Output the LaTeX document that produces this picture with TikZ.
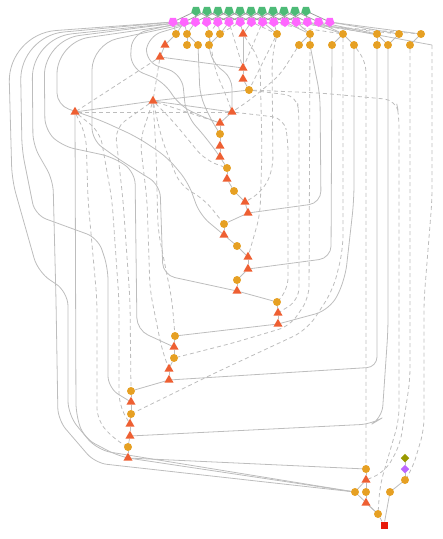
\documentclass[tikz,border=0pt]{standalone}
\usetikzlibrary{shapes.geometric,backgrounds}
\definecolor{cE6A023}{RGB}{230,160,35}
\definecolor{cEE5F32}{RGB}{238,95,50}
\definecolor{c4DBB77}{RGB}{77,187,119}
\definecolor{cFF66FF}{RGB}{255,102,255}
\definecolor{c999900}{RGB}{153,153,0}
\definecolor{cBB66FF}{RGB}{187,102,255}
\definecolor{cE81A0A}{RGB}{232,26,10}
\definecolor{cBDBDBD}{RGB}{189,189,189}
\definecolor{c9E9E9E}{RGB}{158,158,158}
\tikzset{
  op/.style={circle,fill=cE6A023,minimum size=8pt},
  tri/.style={regular polygon,regular polygon sides=3,fill=cEE5F32,minimum size=10.5pt},
  inp/.style={regular polygon,regular polygon sides=5,shape border rotate=180,fill=c4DBB77,minimum size=10pt},
  arg/.style={regular polygon,regular polygon sides=5,shape border rotate=180,fill=cFF66FF,minimum size=10pt},
  res/.style={rectangle,fill=cE81A0A,minimum size=7pt},
  cst/.style={diamond,minimum size=8.5pt},
  ed/.style={draw=cBDBDBD,line width=0.8pt},
  dd/.style={ed,dash pattern=on 4pt off 3pt},
  gd/.style={draw=c9E9E9E,line width=0.8pt},
}
\begin{document}
\begin{tikzpicture}[y=1pt,x=1pt,yscale=-1, inner sep=0pt, outer sep=0pt]
  \useasboundingbox (0,0) rectangle (443,539);
  % inputs and arguments
  \foreach \i in {0,...,10}
    \node[inp] (g\i) at ({196+11*\i},11) {};
  \foreach \i in {0,...,14}
    \node[arg] (p\i) at ({173+11.2*\i},22) {};
  % first rows
  \node[op] (a1) at (176,34) {};
  \node[op] (a2) at (187,34) {};
  \node[op] (a3) at (209,34) {};
  \node[op] (a4) at (220,34) {};
  \node[tri] (t1) at (243,34) {};
  \node[op] (a5) at (277,34) {};
  \node[op] (a6) at (310,34) {};
  \node[op] (a7) at (343,34) {};
  \node[op] (a8) at (377,34) {};
  \node[op] (a9) at (399,34) {};
  \node[op] (a10) at (421,34) {};
  \node[tri] (tL) at (165,45) {};
  \node[op] (b1) at (187,45) {};
  \node[op] (b2) at (198,45) {};
  \node[op] (b3) at (209,45) {};
  \node[op] (b4) at (299,45) {};
  \node[op] (b5) at (310,45) {};
  \node[op] (b6) at (332,45) {};
  \node[op] (b7) at (354,45) {};
  \node[op] (b8) at (377,45) {};
  \node[op] (b9) at (388,45) {};
  \node[op] (b10) at (410,45) {};
  \coordinate (r1) at (432,45);
  \node[tri] (tM) at (160,57) {};
  % chain
  \node[tri] (c1) at (243,68) {};
  \node[tri] (c2) at (243,79) {};
  \node[op] (c3) at (249,90) {};
  \node[tri] (m1) at (153,101) {};
  \node[tri] (m0) at (75,112) {};
  \node[tri] (c4) at (232,112) {};
  \node[tri] (c5) at (220,123) {};
  \node[op] (c6) at (220,134) {};
  \node[tri] (c7) at (220,146) {};
  \node[tri] (c8) at (220,157) {};
  \node[op] (c9) at (227,168) {};
  \node[tri] (c10) at (227,179) {};
  \node[op] (c11) at (234,191) {};
  \node[tri] (c12) at (245,202) {};
  \node[tri] (c13) at (248,213) {};
  \node[op] (c14) at (224,224) {};
  \node[tri] (c15) at (224,235) {};
  \node[op] (c16) at (237,246) {};
  \node[tri] (c17) at (248,257) {};
  \node[tri] (c18) at (248,269) {};
  \node[op] (c19) at (237,280) {};
  \node[tri] (c20) at (237,291) {};
  \node[op] (c21) at (277,302) {};
  \node[tri] (c22) at (278,313) {};
  \node[tri] (c23) at (278,324) {};
  \node[op] (d1) at (175,336) {};
  \node[tri] (d2) at (174,347) {};
  \node[op] (d3) at (174,358) {};
  \node[tri] (d4) at (169,369) {};
  \node[tri] (d5) at (169,380) {};
  \node[op] (e1) at (131,391) {};
  \node[tri] (e2) at (131,402) {};
  \node[op] (e3) at (131,414) {};
  \node[tri] (e4) at (130,424) {};
  \node[tri] (e5) at (130,436) {};
  \node[op] (e6) at (128,447) {};
  \node[tri] (e7) at (128,458) {};
  % output part
  \node[op] (f1) at (366,469) {};
  \node[tri] (f2) at (366,480) {};
  \node[op] (f3) at (355,492) {};
  \node[op] (f4) at (366,492) {};
  \node[tri] (f5) at (366,503) {};
  \node[op] (f6) at (378,514) {};
  \node[res] (out) at (384,525) {};
  \node[cst,fill=c999900] (k1) at (405,458) {};
  \node[cst,fill=cBB66FF] (k2) at (405,469) {};
  \node[op] (k3) at (405,480) {};
  \node[op] (k4) at (390,492) {};

  \begin{scope}[on background layer]
    \foreach \i in {0,...,10}
      \foreach \j in {0,2,4} {
        \pgfmathtruncatemacro\k{\i+\j}
        \ifnum\k<15 \draw[gd] (g\i) -- (p\k); \fi
      }
    \foreach \s/\t in {p0/a1,p1/a1,p1/a2,p2/a2,p3/a3,p4/a4,p5/a4,p6/t1,p7/t1,
        p8/a5,p9/a5,p10/a6,p11/a6,p12/a7,p13/a7,p13/a8,p14/a9,p14/a10,p12/r1}
      \draw[ed] (\s) -- (\t);
    \foreach \s/\t in {p8/a7,p9/a10,p10/a9,p11/a8,p4/a3,p6/a4,p7/a5,p5/c1,p8/c1,
        a5/c3,tM/m0,tM/m1,m0/c4,m1/c5}
      \draw[dd] (\s) -- (\t);
    \foreach \s/\t in {a1/tL,a2/b1,a2/b2,a3/b3,a4/b3,a6/b4,a6/b5,a7/b6,a7/b7,
        a8/b8,a8/b9,a9/b9,a10/b10,tL/tM,t1/c1,c1/c2,c2/c3,tM/c1,c3/m1,m0/m1,m1/c4}
      \draw[ed] (\s) -- (\t);
    \foreach \s/\t in {c4/c5,c5/c6,c6/c7,c7/c8,c8/c9,c9/c10,c10/c11,c11/c12,
        c12/c13,c13/c14,c14/c15,c15/c16,c16/c17,c17/c18,c18/c19,c19/c20,c20/c21,
        c21/c22,c22/c23,c23/d1,d1/d2,d2/d3,d3/d4,d4/d5,d5/e1,e1/e2,e2/e3,e3/e4,
        e4/e5,e5/e6,e6/e7,e7/f1,e7/f3,f1/f2,f2/f3,f2/f4,f4/f5,f5/f6,f3/f6,
        f6/out,k1/k2,k2/k3,k3/k4,k4/out}
      \draw[ed] (\s) -- (\t);
    % long left curves
    \draw[ed] (p0) [rounded corners=48pt] -- (8,34) [rounded corners=14pt] -- (12,180)
      -- (38,272) -- (68,292) -- (68,415) -- (97,450) -- (f3);
    \draw[ed] (p0) [rounded corners=44pt] -- (20,36) [rounded corners=12pt] -- (22,150)
      -- (35,215) -- (98,238) -- (108,268) -- (108,388) -- (e2);
    \draw[ed] (p1) [rounded corners=40pt] -- (32,38) [rounded corners=12pt] -- (33,145)
      -- (53,180) -- (56,300) -- (58,420) -- (95,463) -- (f3);
    \draw[ed] (p1) [rounded corners=36pt] -- (44,40) [rounded corners=12pt] -- (45,130)
      -- (62,146) -- (113,157) -- (135,172) -- (137,330) -- (d2);
    \draw[ed] (p2) [rounded corners=32pt] -- (57,42) [rounded corners=12pt] -- (57,105)
      -- (100,120) -- (137,137) -- (167,157) -- (188,182) -- (200,215) -- (c15);
    \draw[ed] (p2) [rounded corners=26pt] -- (92,44) [rounded corners=12pt] -- (92,140)
      -- (120,160) -- (160,185) -- (163,275) -- (c20);
    \draw[ed, rounded corners=12pt] (m0) -- (76,415) -- (84,438) -- (118,456) -- (e7);
    % middle curves
    \draw[ed, rounded corners=14pt] (p1) -- (132,34) -- (130,68) -- (165,82) -- (178,105)
      -- (205,118) -- (c5);
    \draw[ed, rounded corners=14pt] (p2) -- (148,36) -- (145,62) -- (182,74) -- (186,115)
      -- (208,140) -- (c8);
    \draw[ed, rounded corners=10pt] (b2) -- (200,95) -- (210,118) -- (c6);
    \draw[ed, rounded corners=10pt] (b3) -- (212,62) -- (232,78) -- (c4);
    % right curves
    \draw[ed, rounded corners=12pt] (b5) -- (320,95) -- (321,203) -- (c13);
    \draw[ed, rounded corners=12pt] (b6) -- (331,258) -- (c18);
    \draw[ed, rounded corners=15pt] (b7) -- (354,200) -- (345,280) -- (330,310) -- (c23);
    \draw[ed, rounded corners=10pt] (b8) -- (377,367) -- (d5);
    \draw[ed, rounded corners=12pt] (b9) -- (388,330) -- (382,418) -- (372,424) -- (e5);
    % dashed curves
    \draw[dd, rounded corners=12pt] (c4) -- (284,118) -- (288,140) -- (288,290) -- (c21);
    \draw[dd, rounded corners=12pt] (c3) -- (297,96) -- (299,115) -- (299,300) -- (c22);
    \draw[dd, rounded corners=12pt] (a6) -- (309,298) -- (290,326) -- (233,343) -- (d3);
    \draw[dd, rounded corners=15pt] (a7) -- (343,250) -- (333,290) -- (307,330)
      -- (217,372) -- (e3);
    \draw[dd, rounded corners=12pt] (t1) -- (260,60) -- (262,150) -- (260,215) -- (c17);
    \draw[dd, rounded corners=12pt] (a5) -- (272,58) -- (273,170) -- (262,192) -- (c12);
    \draw[dd, rounded corners=12pt] (c3) -- (320,93) -- (396,100) -- (399,115)
      -- (399,420) -- (380,485) -- (f6);
    \draw[dd, rounded corners=12pt] (b10) -- (410,380) -- (400,445) -- (385,472) -- (f2);
    \draw[dd, rounded corners=12pt] (r1) -- (432,200) -- (424,300) -- (424,430)
      -- (412,470) -- (k3);
    \draw[dd, rounded corners=10pt] (b7) -- (366,62) -- (f1);
    \draw[dd, rounded corners=12pt] (m0) -- (86,135) -- (88,200) -- (97,300) -- (97,420)
      -- (115,440) -- (e6);
    \draw[dd, rounded corners=12pt] (m0) -- (100,132) -- (112,200) -- (119,300)
      -- (119,405) -- (e4);
    \draw[dd, rounded corners=12pt] (m1) -- (115,128) -- (123,200) -- (130,300) -- (e1);
    \draw[dd, rounded corners=12pt] (m1) -- (140,140) -- (147,200) -- (150,290)
      -- (162,350) -- (d4);
    \draw[dd, rounded corners=12pt] (m1) -- (156,150) -- (158,230) -- (172,300) -- (d1);
    \draw[dd, rounded corners=12pt] (m1) -- (172,120) -- (205,160) -- (c9);
    \draw[dd, rounded corners=12pt] (m1) -- (162,140) -- (180,185) -- (205,200) -- (c14);
    \draw[dd, rounded corners=10pt] (a3) -- (215,70) -- (226,95) -- (c4);
    \draw[dd, rounded corners=10pt] (b4) -- (280,75) -- (250,100) -- (c4);
  \end{scope}
\end{tikzpicture}
\end{document}
